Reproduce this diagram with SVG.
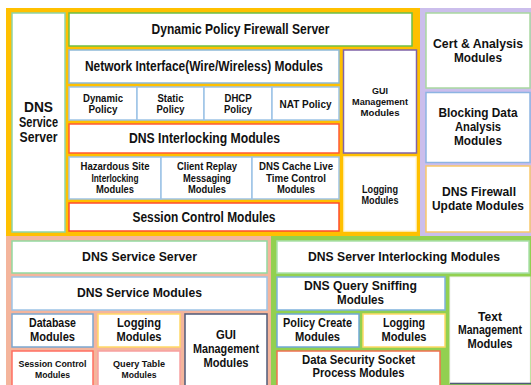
<svg xmlns="http://www.w3.org/2000/svg" width="531" height="385" viewBox="0 0 531 385">
<style>
text{font-family:"Liberation Sans Narrow","Liberation Sans",Arial,sans-serif;font-weight:bold;fill:#111;text-anchor:middle}
.b{fill:#fff;stroke-width:1.5}
.f14{font-size:14px}.f13{font-size:13px}.f12{font-size:12.5px}.f10{font-size:10.5px}.f9{font-size:9.5px}
</style>
<rect width="531" height="385" fill="#fff"/>
<g id="regions">
<rect x="6" y="8" width="415" height="228" fill="#FFC000"/>
<rect x="420" y="8" width="111" height="228" fill="#CBBEEC"/>
<rect x="6" y="236" width="266" height="149" fill="#F4B59C"/>
<rect x="271" y="236" width="260" height="149" fill="#92D050"/>
</g>
<g id="n_dns_service_server_left"><rect class="b" x="12" y="13" width="53" height="219" stroke="#8ED3A4"/>
<text class="f14" x="38.5" y="112" textLength="29" lengthAdjust="spacingAndGlyphs">DNS</text>
<text class="f14" x="38.5" y="127" textLength="39" lengthAdjust="spacingAndGlyphs">Service</text>
<text class="f14" x="38.5" y="142" textLength="38" lengthAdjust="spacingAndGlyphs">Server</text></g>
<g id="n_dpfs"><rect class="b" x="69" y="13" width="343" height="33" stroke="#6DBE45"/>
<text class="f14" x="240.5" y="34" textLength="178" lengthAdjust="spacingAndGlyphs">Dynamic Policy Firewall Server</text></g>
<g id="n_netif"><rect class="b" x="69" y="50" width="270" height="33" stroke="#8DB9D8"/>
<text class="f14" x="204" y="71" textLength="238" lengthAdjust="spacingAndGlyphs">Network Interface(Wire/Wireless) Modules</text></g>
<g id="n_gui_top"><rect class="b" x="343.5" y="50" width="73" height="103" stroke="#7F62A8"/>
<text class="f9" x="380" y="94" textLength="16" lengthAdjust="spacingAndGlyphs">GUI</text>
<text class="f9" x="380" y="105" textLength="56" lengthAdjust="spacingAndGlyphs">Management</text>
<text class="f9" x="380" y="116" textLength="39" lengthAdjust="spacingAndGlyphs">Modules</text></g>
<g id="n_dyn_policy"><rect class="b" x="69" y="87" width="68" height="33" stroke="#9DC3E6"/>
<text class="f10" x="103" y="102" textLength="40" lengthAdjust="spacingAndGlyphs">Dynamic</text>
<text class="f10" x="103" y="113" textLength="29" lengthAdjust="spacingAndGlyphs">Policy</text></g>
<g id="n_static_policy"><rect class="b" x="137" y="87" width="67" height="33" stroke="#9DC3E6"/>
<text class="f10" x="170.5" y="102" textLength="26" lengthAdjust="spacingAndGlyphs">Static</text>
<text class="f10" x="170.5" y="113" textLength="28" lengthAdjust="spacingAndGlyphs">Policy</text></g>
<g id="n_dhcp_policy"><rect class="b" x="204" y="87" width="68" height="33" stroke="#9DC3E6"/>
<text class="f10" x="238" y="102" textLength="27" lengthAdjust="spacingAndGlyphs">DHCP</text>
<text class="f10" x="238" y="113" textLength="28" lengthAdjust="spacingAndGlyphs">Policy</text></g>
<g id="n_nat_policy"><rect class="b" x="272" y="87" width="67" height="33" stroke="#9DC3E6"/>
<text class="f10" x="305.5" y="108" textLength="52" lengthAdjust="spacingAndGlyphs">NAT Policy</text></g>
<g id="n_dns_interlock"><rect class="b" x="69" y="124" width="270" height="29" stroke="#FF5A36"/>
<text class="f14" x="204.5" y="143" textLength="151" lengthAdjust="spacingAndGlyphs">DNS Interlocking Modules</text></g>
<g id="n_hazard"><rect class="b" x="69" y="157" width="92" height="42" stroke="#9DC3E6"/>
<text class="f10" x="115" y="170" textLength="69" lengthAdjust="spacingAndGlyphs">Hazardous Site</text>
<text class="f10" x="115" y="181.5" textLength="47" lengthAdjust="spacingAndGlyphs">Interlocking</text>
<text class="f10" x="115" y="193" textLength="38" lengthAdjust="spacingAndGlyphs">Modules</text></g>
<g id="n_client"><rect class="b" x="161" y="157" width="91" height="42" stroke="#9DC3E6"/>
<text class="f10" x="207" y="170" textLength="60" lengthAdjust="spacingAndGlyphs">Client Replay</text>
<text class="f10" x="207" y="181.5" textLength="48" lengthAdjust="spacingAndGlyphs">Messaging</text>
<text class="f10" x="207" y="193" textLength="38" lengthAdjust="spacingAndGlyphs">Modules</text></g>
<g id="n_cache"><rect class="b" x="252" y="157" width="87" height="42" stroke="#9DC3E6"/>
<text class="f10" x="296" y="170" textLength="74" lengthAdjust="spacingAndGlyphs">DNS Cache Live</text>
<text class="f10" x="296" y="181.5" textLength="60" lengthAdjust="spacingAndGlyphs">Time Control</text>
<text class="f10" x="296" y="193" textLength="38" lengthAdjust="spacingAndGlyphs">Modules</text></g>
<g id="n_session_top"><rect class="b" x="69" y="203" width="270" height="28" stroke="#FF4B2B"/>
<text class="f14" x="204" y="222" textLength="143" lengthAdjust="spacingAndGlyphs">Session Control Modules</text></g>
<g id="n_logging_top"><rect class="b" x="344" y="157" width="72" height="74" stroke="#FFF6D8"/>
<text class="f10" x="380" y="193" textLength="36" lengthAdjust="spacingAndGlyphs">Logging</text>
<text class="f10" x="380" y="203.5" textLength="37" lengthAdjust="spacingAndGlyphs">Modules</text></g>
<g id="n_cert"><rect class="b" x="426" y="13" width="104" height="75" stroke="#A9D8A0"/>
<text class="f13" x="478" y="48" textLength="90" lengthAdjust="spacingAndGlyphs">Cert &amp; Analysis</text>
<text class="f13" x="478" y="62" textLength="48" lengthAdjust="spacingAndGlyphs">Modules</text></g>
<g id="n_blocking"><rect class="b" x="426" y="92.5" width="104" height="70" stroke="#8DB4E2"/>
<text class="f13" x="478" y="117" textLength="79" lengthAdjust="spacingAndGlyphs">Blocking Data</text>
<text class="f13" x="478" y="131" textLength="46" lengthAdjust="spacingAndGlyphs">Analysis</text>
<text class="f13" x="478" y="145" textLength="48" lengthAdjust="spacingAndGlyphs">Modules</text></g>
<g id="n_fw_update"><rect class="b" x="426" y="166" width="104" height="66" stroke="#F9C86A"/>
<text class="f13" x="479" y="196" textLength="74" lengthAdjust="spacingAndGlyphs">DNS Firewall</text>
<text class="f13" x="478" y="210" textLength="92" lengthAdjust="spacingAndGlyphs">Update Modules</text></g>
<g id="n_dss_bottom"><rect class="b" x="12" y="241" width="255" height="32" stroke="#92D9A0"/>
<text class="f13" x="139.5" y="261" textLength="115" lengthAdjust="spacingAndGlyphs">DNS Service Server</text></g>
<g id="n_dsm"><rect class="b" x="12" y="277" width="255" height="33" stroke="#9DC3E6"/>
<text class="f13" x="139.5" y="297" textLength="125" lengthAdjust="spacingAndGlyphs">DNS Service Modules</text></g>
<g id="n_database"><rect class="b" x="12" y="314" width="81" height="33" stroke="#7BA7D0"/>
<text class="f12" x="52.5" y="327" textLength="47" lengthAdjust="spacingAndGlyphs">Database</text>
<text class="f12" x="52.5" y="341" textLength="45" lengthAdjust="spacingAndGlyphs">Modules</text></g>
<g id="n_logging_bl"><rect class="b" x="98" y="314" width="82" height="33" stroke="#FFD966"/>
<text class="f12" x="139" y="327" textLength="44" lengthAdjust="spacingAndGlyphs">Logging</text>
<text class="f12" x="139" y="341" textLength="45" lengthAdjust="spacingAndGlyphs">Modules</text></g>
<g id="n_gui_bottom"><rect class="b" x="185" y="314" width="82" height="75" stroke="#4F5A78"/>
<text class="f12" x="226" y="339" textLength="20" lengthAdjust="spacingAndGlyphs">GUI</text>
<text class="f12" x="226" y="353" textLength="66" lengthAdjust="spacingAndGlyphs">Management</text>
<text class="f12" x="226" y="367" textLength="45" lengthAdjust="spacingAndGlyphs">Modules</text></g>
<g id="n_session_bl"><rect class="b" x="12" y="351" width="81" height="38" stroke="#FF6F61"/>
<text class="f9" x="52.5" y="367" textLength="68" lengthAdjust="spacingAndGlyphs">Session Control</text>
<text class="f9" x="52.5" y="377.5" textLength="35" lengthAdjust="spacingAndGlyphs">Modules</text></g>
<g id="n_query_table"><rect class="b" x="98" y="351" width="82" height="38" stroke="#F8A0A0"/>
<text class="f9" x="139" y="367" textLength="52" lengthAdjust="spacingAndGlyphs">Query Table</text>
<text class="f9" x="139" y="377.5" textLength="35" lengthAdjust="spacingAndGlyphs">Modules</text></g>
<g id="n_dsim"><rect class="b" x="277" y="241" width="252" height="32" stroke="#A9E0A9"/>
<text class="f13" x="404" y="261" textLength="192" lengthAdjust="spacingAndGlyphs">DNS Server Interlocking Modules</text></g>
<g id="n_sniff"><rect class="b" x="277" y="277" width="168" height="33" stroke="#7EB2DC"/>
<text class="f12" x="360.5" y="290" textLength="113" lengthAdjust="spacingAndGlyphs">DNS Query Sniffing</text>
<text class="f12" x="360.5" y="304" textLength="47" lengthAdjust="spacingAndGlyphs">Modules</text></g>
<g id="n_text_mgmt"><rect x="450" y="277" width="80" height="106" fill="#fff" stroke="#F2F2F2" stroke-width="1"/>
<line x1="450" y1="383.5" x2="531" y2="383.5" stroke="#4F5A78" stroke-width="1.5"/>
<text class="f12" x="490" y="321" textLength="24" lengthAdjust="spacingAndGlyphs">Text</text>
<text class="f12" x="490" y="334" textLength="64" lengthAdjust="spacingAndGlyphs">Management</text>
<text class="f12" x="490" y="348" textLength="45" lengthAdjust="spacingAndGlyphs">Modules</text></g>
<g id="n_policy_create"><rect class="b" x="277" y="314" width="82" height="33" stroke="#6FA8D6"/>
<text class="f12" x="317.5" y="327" textLength="69" lengthAdjust="spacingAndGlyphs">Policy Create</text>
<text class="f12" x="317.5" y="341" textLength="45" lengthAdjust="spacingAndGlyphs">Modules</text></g>
<g id="n_logging_br"><rect class="b" x="363" y="314" width="82" height="33" stroke="#FFD966"/>
<text class="f12" x="404" y="327" textLength="42" lengthAdjust="spacingAndGlyphs">Logging</text>
<text class="f12" x="404" y="341" textLength="45" lengthAdjust="spacingAndGlyphs">Modules</text></g>
<g id="n_data_sec"><rect class="b" x="277" y="351" width="163" height="38" stroke="#F07050"/>
<text class="f12" x="358.5" y="364" textLength="113" lengthAdjust="spacingAndGlyphs">Data Security Socket</text>
<text class="f12" x="358.5" y="377" textLength="92" lengthAdjust="spacingAndGlyphs">Process Modules</text></g>
<g id="connectors"></g>
</svg>
